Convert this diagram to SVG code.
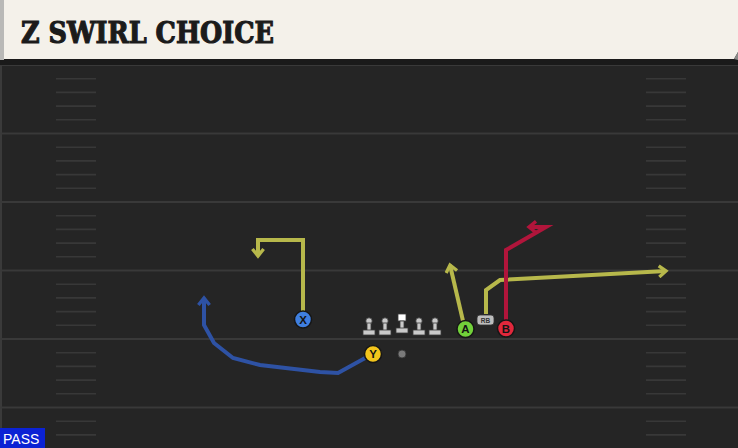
<svg xmlns="http://www.w3.org/2000/svg" width="738" height="448" viewBox="0 0 738 448">
<style>
.yard{stroke:#393939;stroke-width:2}
.hash{stroke:#383838;stroke-width:1.6}
.route{fill:none;stroke-width:4;stroke-linejoin:miter;stroke-linecap:butt}
.yg{stroke:#b7b84b}
.bl{stroke:#2e52a4}
.rd{stroke:#b1153b}
.pc{stroke:#161616;stroke-width:1.5}
.pl{font-family:"Liberation Sans",Arial,sans-serif;font-weight:bold;font-size:11.5px;fill:#141414;text-anchor:middle}
.ol{fill:#c9c9c9;stroke:#3a3a3a;stroke-width:0.8}
</style>
<defs>
<marker id="ay" viewBox="0 0 10 10" refX="7" refY="5" markerWidth="14" markerHeight="14" markerUnits="userSpaceOnUse" orient="auto"><path d="M2,1 L7,5 L2,9" fill="none" stroke="#b7b84b" stroke-width="2.4"/></marker>
<marker id="ab" viewBox="0 0 10 10" refX="7" refY="5" markerWidth="14" markerHeight="14" markerUnits="userSpaceOnUse" orient="auto"><path d="M2,1 L7,5 L2,9" fill="none" stroke="#2e52a4" stroke-width="2.4"/></marker>
<marker id="ar" viewBox="0 0 10 10" refX="7" refY="5" markerWidth="14" markerHeight="14" markerUnits="userSpaceOnUse" orient="auto"><path d="M2,1 L7,5 L2,9" fill="none" stroke="#b1153b" stroke-width="2.4"/></marker>
</defs>
<rect width="738" height="448" fill="#252525"/>
<rect x="0" y="60" width="2" height="388" fill="#3a3a3a"/>
<g id="field">
<line class="yard" x1="0" y1="65" x2="738" y2="65"/>
<line class="yard" x1="0" y1="133.5" x2="738" y2="133.5"/>
<line class="yard" x1="0" y1="202" x2="738" y2="202"/>
<line class="yard" x1="0" y1="270.5" x2="738" y2="270.5"/>
<line class="yard" x1="0" y1="339" x2="738" y2="339"/>
<line class="yard" x1="0" y1="407.5" x2="738" y2="407.5"/>
<g id="hashes">
<path class="hash" d="M56,78.7H96M56,92.4H96M56,106.1H96M56,119.8H96M56,147.2H96M56,160.9H96M56,174.6H96M56,188.3H96M56,215.7H96M56,229.4H96M56,243.1H96M56,256.8H96M56,284.2H96M56,297.9H96M56,311.6H96M56,325.3H96M56,352.7H96M56,366.4H96M56,380.1H96M56,393.8H96M56,421.2H96M56,434.9H96"/>
<path class="hash" d="M646,78.7H686M646,92.4H686M646,106.1H686M646,119.8H686M646,147.2H686M646,160.9H686M646,174.6H686M646,188.3H686M646,215.7H686M646,229.4H686M646,243.1H686M646,256.8H686M646,284.2H686M646,297.9H686M646,311.6H686M646,325.3H686M646,352.7H686M646,366.4H686M646,380.1H686M646,393.8H686M646,421.2H686M646,434.9H686"/>
</g>
</g>
<g id="banner">
<rect x="0" y="58" width="738" height="7" fill="#1a1a1a"/>
<rect x="0" y="0" width="4" height="60" fill="#b9b9b7"/>
<polygon points="4,0 738,0 738,52 734,59 4,59" fill="#f4f1ea"/>
<polygon points="734,59 738,52 738,60" fill="#8a8a88"/>
<text x="21" y="43" font-family="'DejaVu Serif',serif" font-weight="900" font-size="30" textLength="253" lengthAdjust="spacingAndGlyphs" fill="#1b1b1b" stroke="#1b1b1b" stroke-width="1.2">Z SWIRL CHOICE</text>
</g>
<g id="connectors">
<polyline class="route yg" points="303,312 303,240 258,240 258,256" marker-end="url(#ay)"/>
<polyline class="route bl" points="367,357 338,373 320,372 260,365 233,358 214,343 204,325 204,298" marker-end="url(#ab)"/>
<polyline class="route yg" points="463,321 450,265" marker-end="url(#ay)"/>
<polyline class="route yg" points="486,314 486,290 500,280 666,271" marker-end="url(#ay)"/>
<polyline class="route rd" points="506,321 506,250 546,227 529,227" marker-end="url(#ar)"/>
</g>
<g id="line-OL1"><circle class="ol" cx="369" cy="321" r="3.2"/><rect class="ol" x="367" y="323" width="4" height="8"/><rect class="ol" x="363" y="330" width="12" height="5"/></g>
<g id="line-OL2"><circle class="ol" cx="385" cy="321" r="3.2"/><rect class="ol" x="383" y="323" width="4" height="8"/><rect class="ol" x="379" y="330" width="12" height="5"/></g>
<g id="line-C"><rect x="398" y="314" width="8" height="7" fill="#ffffff" stroke="#3a3a3a" stroke-width="0.8"/><rect class="ol" x="400" y="321" width="4" height="8"/><rect class="ol" x="396" y="328" width="12" height="5"/></g>
<g id="line-OL4"><circle class="ol" cx="419" cy="321" r="3.2"/><rect class="ol" x="417" y="323" width="4" height="8"/><rect class="ol" x="413" y="330" width="12" height="5"/></g>
<g id="line-OL5"><circle class="ol" cx="435" cy="321" r="3.2"/><rect class="ol" x="433" y="323" width="4" height="8"/><rect class="ol" x="429" y="330" width="12" height="5"/></g>
<g id="qb"><circle cx="402" cy="354" r="4" fill="#7a7a7a" stroke="#333" stroke-width="0.8"/></g>
<g id="rb"><rect x="477" y="315" width="17" height="10" rx="3" fill="#bdbdbd" stroke="#333" stroke-width="0.8"/><text x="485.5" y="323" font-family="'Liberation Sans',Arial,sans-serif" font-size="6.5" font-weight="bold" fill="#333" text-anchor="middle">RB</text></g>
<g id="player-X"><circle class="pc" cx="303" cy="319.5" r="8.5" fill="#3f7fe0"/><text class="pl" x="303" y="323.5">X</text></g>
<g id="player-Y"><circle class="pc" cx="373" cy="354" r="8.5" fill="#f3c51c"/><text class="pl" x="373" y="358">Y</text></g>
<g id="player-A"><circle class="pc" cx="465.5" cy="329" r="8.5" fill="#72d13a"/><text class="pl" x="465.5" y="333">A</text></g>
<g id="player-B"><circle class="pc" cx="506" cy="328.5" r="8.5" fill="#e2283c"/><text class="pl" x="506" y="332.5">B</text></g>
<g id="pass-tag"><rect x="0" y="428" width="45" height="20" fill="#0b22d4"/><text x="3" y="444" font-family="'Liberation Sans',Arial,sans-serif" font-size="14" fill="#ffffff">PASS</text></g>
</svg>
